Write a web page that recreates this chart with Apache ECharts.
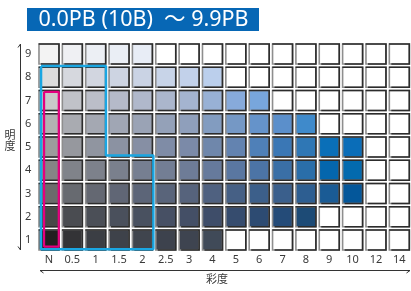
<!DOCTYPE html>
<html>
<head>
<meta charset="utf-8">
<script src="https://cdn.jsdelivr.net/npm/echarts@6/dist/echarts.min.js"></script>
<style>
html,body{margin:0;padding:0;background:#fff;}
#chart{width:411px;height:291px;}
</style>
</head>
<body>
<div id="chart"></div>
<script>
// ---- data ----
const titleText = '0.0PB (10B)  ～ 9.9PB';
const chromaLabels = ['N','0.5','1','1.5','2','2.5','3','4','5','6','7','8','9','10','12','14'];
const valueLabels = ['1','2','3','4','5','6','7','8','9'];
const xName = '彩度';
const yName = '明度';

// colours of the chips in each value row, from chroma N upward (missing = empty chip)
const row1 = ['#231f20','#333336','#3b3e44','#3e424a','#40454e','#3d424d','#3e4450','#404a58'];
const row2 = ['#474747','#4a4c51','#4b4f57','#4a505c','#495160','#475064','#444f66','#3e4d69','#364c6e','#2d4b72','#244b78','#1d4b76'];
const row3 = ['#6b6b6b','#676a70','#646872','#606675','#5c6578','#59647a','#56637c','#4f6180','#466085','#3c5f8a','#3a5f8c','#2d5e91','#1a5b95','#04579a'];
const row4 = ['#858585','#80838a','#7d818b','#7a808d','#767f91','#737e94','#6e7c97','#667a9c','#5a77a1','#4c74a6','#3a6fa6','#2a6ea9','#0466ad','#036aae'];
const row5 = ['#9c9c9c','#96989e','#9095a0','#8b92a2','#868fa4','#7f8ca6','#7b8aa8','#6f87ab','#6383b0','#4f80b8','#3a77b5','#2f77b5','#0a6fb8','#0a6db8'];
const row6 = ['#b2b2b2','#a9abb1','#a4a8b2','#a0a6b4','#9aa3b5','#94a1b8','#8f9fbb','#829cc0','#7598c5','#6593ca','#5b8fcb','#3f8acb'];
const row7 = ['#c9c9c9','#c0c2c8','#bbbec8','#b5bac9','#b0b8cb','#abb6cc','#a4b4d0','#98b1d5','#87aadb','#78a6dc'];
const row8 = ['#dcdcdc','#d6d8de','#d2d6e0','#cdd4e2','#cad3e4','#c8d4e8','#c2d1ea','#bbcfec'];
const row9 = ['#f3f3f3','#eff0f3','#eceff4','#eaeef5','#e8edf6'];
const rows = [row1,row2,row3,row4,row5,row6,row7,row8,row9];

// outlined regions, in (chroma index, value) data space
const cyanOutline = [[-0.34,8.48],[2.44,8.48],[2.44,4.64],[4.47,4.64],[4.47,0.61],[-0.34,0.61],[-0.34,8.48]];
const magentaOutline = [[-0.21,7.37],[0.42,7.37],[0.42,0.72],[-0.21,0.72],[-0.21,7.37]];

// ---- build ----
const cells = [];
rows.forEach((cols, r) => {
  chromaLabels.forEach((c, i) => {
    cells.push({ value: [i, r], itemStyle: { color: cols[i] || '#ffffff' } });
  });
});

const chart = echarts.init(document.getElementById('chart'), null, { renderer: 'canvas' });
const txt = '#3a3a3a';
const font = '"Noto Sans", "Noto Sans CJK JP", sans-serif';

chart.setOption({
  animation: false,
  backgroundColor: '#ffffff',
  grid: { left: 37.3, top: 42.4, width: 374.4, height: 209.3 },
  xAxis: [
    { type: 'category', data: chromaLabels, boundaryGap: true,
      axisLine: { show: false }, axisTick: { show: false }, splitLine: { show: false },
      axisLabel: { margin: 3, fontSize: 11, color: txt, fontFamily: font } },
    { type: 'value', min: -0.5, max: 15.5, show: false }
  ],
  yAxis: [
    { type: 'category', data: valueLabels, boundaryGap: true,
      axisLine: { show: false }, axisTick: { show: false }, splitLine: { show: false },
      axisLabel: { margin: 6, fontSize: 11, color: txt, fontFamily: font } },
    { type: 'value', min: 0.5, max: 9.5, show: false }
  ],
  series: [
    { type: 'custom', xAxisIndex: 0, yAxisIndex: 0, data: cells, silent: true,
      renderItem: function (params, api) {
        const p = api.coord([api.value(0), api.value(1)]);
        const w = 20, h = 20;
        const x0 = p[0] - w / 2, y0 = p[1] - h / 2;
        return { type: 'group', children: [
          { type: 'rect', shape: { x: x0, y: y0, width: w, height: h },
            style: { fill: api.visual('color'), stroke: '#8e8e8e', lineWidth: 1.6 } },
          { type: 'polyline', shape: { points: [[x0 - 0.3, y0], [x0 + w, y0], [x0 + w, y0 + h], [x0 + 2, y0 + h]] },
            style: { fill: null, stroke: '#2c2c2c', lineWidth: 1.6 } }
        ]};
      } },
    { type: 'line', xAxisIndex: 1, yAxisIndex: 1, data: cyanOutline, symbol: 'none', silent: true,
      lineStyle: { color: '#1aa6e2', width: 2.5 }, z: 5 },
    { type: 'line', xAxisIndex: 1, yAxisIndex: 1, data: magentaOutline, symbol: 'none', silent: true,
      lineStyle: { color: '#e5007f', width: 2.2 }, z: 6 }
  ],
  graphic: [
    { type: 'rect', shape: { x: 27, y: 8, width: 232, height: 23 }, style: { fill: '#0767b5' } },
    { type: 'text', left: 38.5, top: 7.5, style: { text: titleText, fill: '#ffffff', fontSize: 21.5, fontFamily: font, lineHeight: 24 } },
    { type: 'polyline', shape: { points: [[18, 47.5], [20.5, 44], [20.5, 250], [18, 246.5]] }, style: { fill: null, stroke: '#333', lineWidth: 1 } },
    { type: 'polyline', shape: { points: [[43.5, 273], [40, 270.5], [410, 270.5], [406.5, 273]] }, style: { fill: null, stroke: '#333', lineWidth: 1 } },
    { type: 'text', x: 217, y: 280, style: { text: xName, fill: txt, fontSize: 11, fontFamily: font, align: 'center', verticalAlign: 'middle' } },
    { type: 'text', x: 10, y: 141, style: { text: yName.split('').join('\n'), fill: txt, fontSize: 11, lineHeight: 11, fontFamily: font, align: 'center', verticalAlign: 'middle' } }
  ]
});
</script>
</body>
</html>
